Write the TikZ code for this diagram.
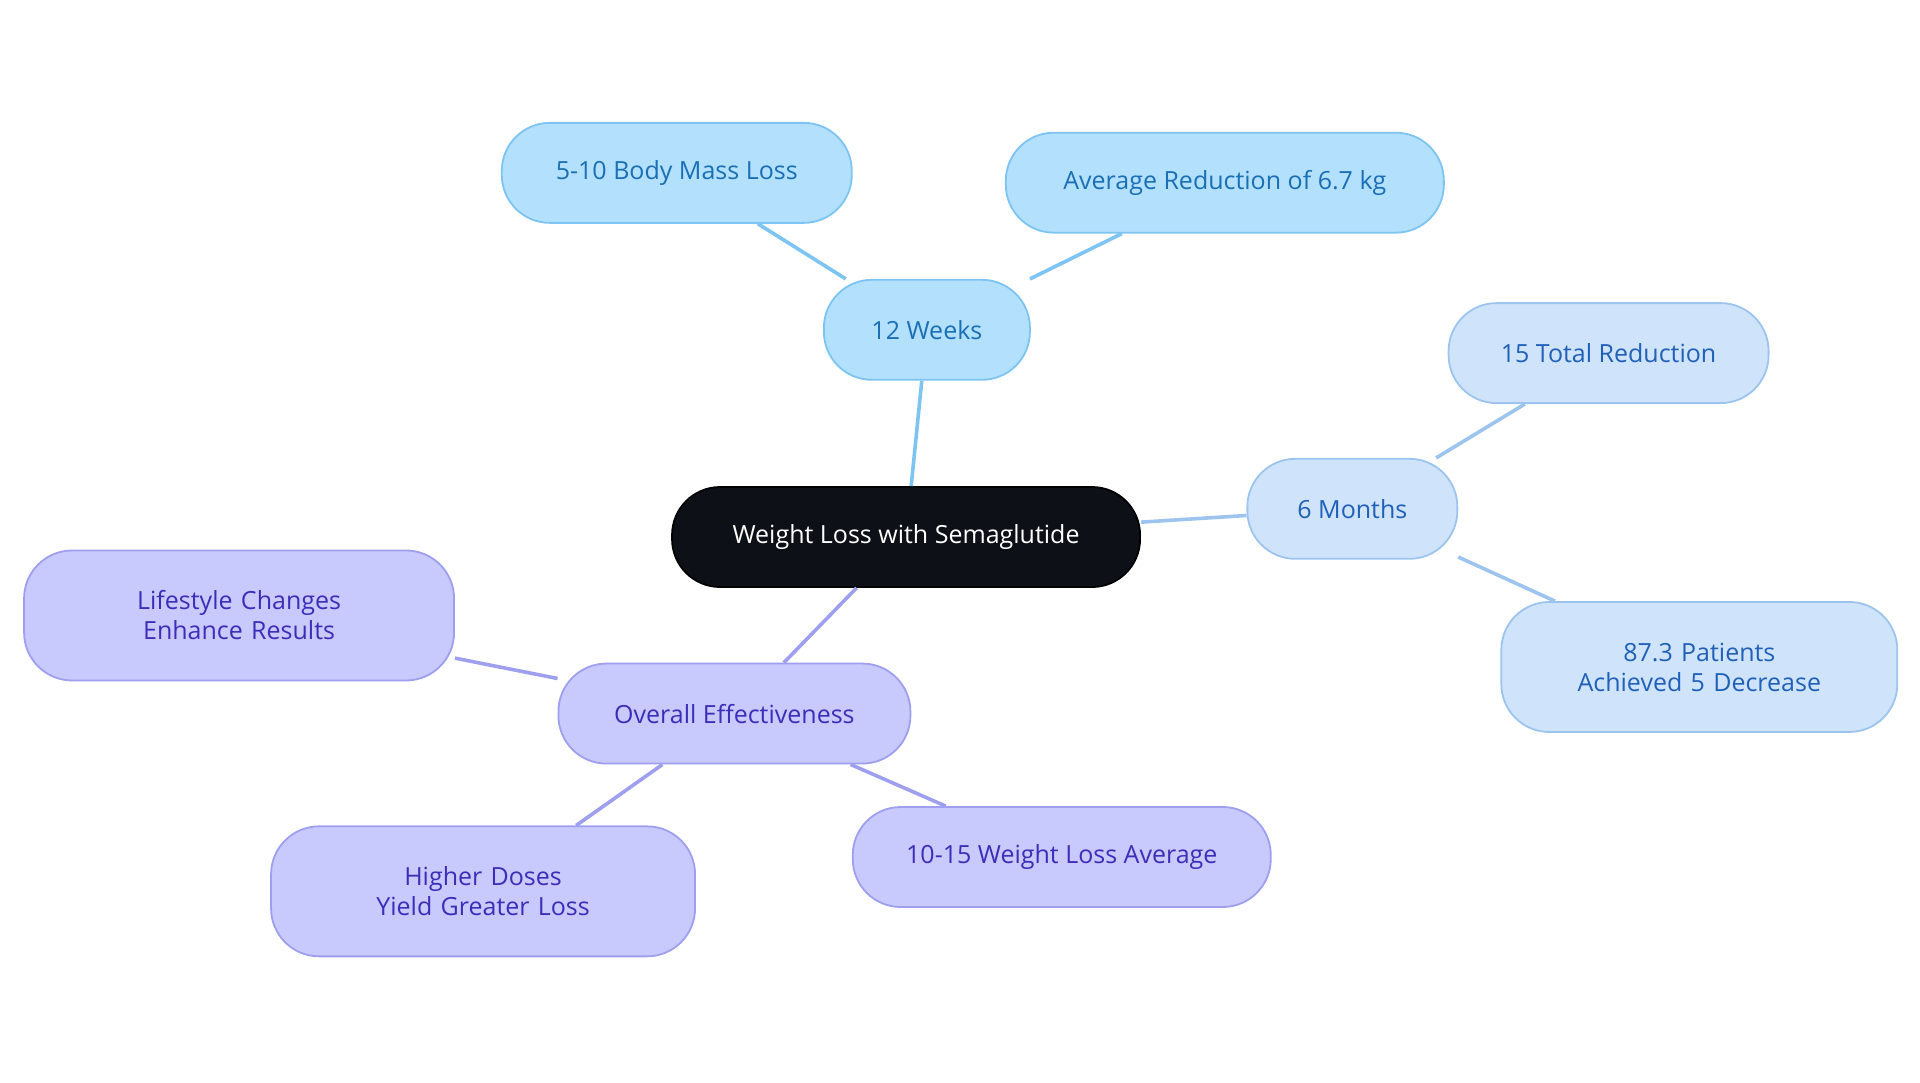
\documentclass[tikz,border=0pt]{standalone}
\usepackage{fontspec}
\setmainfont{Open Sans}
\definecolor{rootfill}{HTML}{0D1117}
\definecolor{wkfill}{HTML}{B3E0FD}
\definecolor{wkline}{HTML}{7EC4F2}
\definecolor{wktext}{HTML}{1A6FB5}
\definecolor{mofill}{HTML}{CFE4FB}
\definecolor{moline}{HTML}{9CC4EF}
\definecolor{motext}{HTML}{2160B8}
\definecolor{ovfill}{HTML}{C8C9FC}
\definecolor{ovline}{HTML}{9F9FF0}
\definecolor{ovtext}{HTML}{3A2FB8}
\tikzset{
  box/.style={rounded corners=24pt, line width=0.9pt, align=center,
    inner sep=0pt, font=\fontsize{12.5}{15}\selectfont},
  root/.style={box, fill=rootfill, draw=black, text=white},
  week/.style={box, fill=wkfill, draw=wkline, text=wktext},
  month/.style={box, fill=mofill, draw=moline, text=motext},
  overall/.style={box, fill=ovfill, draw=ovline, text=ovtext},
  link/.style={line width=1.8pt}
}
\begin{document}
\begin{tikzpicture}[x=0.613pt, y=-0.613pt]
  \useasboundingbox (0,0) rectangle (1566,883);

  % branches first, boxes on top
  \coordinate (c) at (739,438);

  \node[root, minimum width=234pt, minimum height=50pt] (root) at (739,438) {Weight Loss with Semaglutide};

  \node[week, minimum width=103pt, minimum height=50pt] (weeks) at (756,269) {12 Weeks};
  \node[week, minimum width=175pt, minimum height=50pt] (body) at (552,141) {5-10 Body Mass Loss};
  \node[week, minimum width=219pt, minimum height=50pt] (avg) at (999,149) {Average Reduction of 6.7 kg};

  \node[month, minimum width=105pt, minimum height=50pt] (months) at (1103,415) {6 Months};
  \node[month, minimum width=160pt, minimum height=50pt] (total) at (1312,288) {15 Total Reduction};
  \node[month, minimum width=198pt, minimum height=65pt, text width=180pt] (patients) at (1386,544) {87.3 Patients Achieved 5 Decrease};

  \node[overall, minimum width=176pt, minimum height=50pt] (overall) at (599,582) {Overall Effectiveness};
  \node[overall, minimum width=215pt, minimum height=65pt, text width=180pt] (life) at (195,502) {Lifestyle Changes Enhance Results};
  \node[overall, minimum width=212pt, minimum height=65pt, text width=180pt] (dose) at (394,727) {Higher Doses Yield Greater Loss};
  \node[overall, minimum width=209pt, minimum height=50pt] (avgloss) at (866,699) {10-15 Weight Loss Average};

  \begin{scope}[on background layer/.style={}]
  \end{scope}
  \draw[link, wkline] (root) -- (weeks);
  \draw[link, wkline] (weeks) -- (body);
  \draw[link, wkline] (weeks) -- (avg);
  \draw[link, moline] (root) -- (months);
  \draw[link, moline] (months) -- (total);
  \draw[link, moline] (months) -- (patients);
  \draw[link, ovline] (root) -- (overall);
  \draw[link, ovline] (overall) -- (life);
  \draw[link, ovline] (overall) -- (dose);
  \draw[link, ovline] (overall) -- (avgloss);
\end{tikzpicture}
\end{document}
